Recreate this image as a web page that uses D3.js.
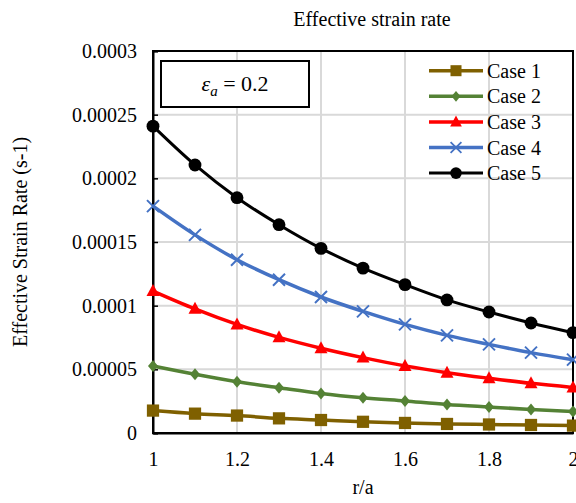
<!DOCTYPE html>
<html>
<head>
<meta charset="utf-8">
<script src="https://cdn.jsdelivr.net/npm/d3@7"></script>
<style>
  html, body { margin: 0; padding: 0; background: #fff; }
  svg text { font-family: "Liberation Serif", "Times New Roman", serif; fill: #000; }
</style>
</head>
<body>
<svg id="chart" width="576" height="503"></svg>
<script>
// r/a positions
const ratios = [1, 1.1, 1.2, 1.3, 1.4, 1.5, 1.6, 1.7, 1.8, 1.9, 2];

// Effective strain rate (s-1) for each case
const case1 = [0.0000176, 0.0000152, 0.0000137, 0.0000115, 0.0000102, 0.0000088, 0.0000079, 0.0000071, 0.0000067, 0.0000063, 0.0000058];
const case2 = [0.0000526, 0.0000461, 0.0000403, 0.0000356, 0.0000311, 0.0000277, 0.0000251, 0.0000224, 0.0000204, 0.0000185, 0.0000169];
const case3 = [0.0001115, 0.0000975, 0.0000853, 0.0000751, 0.0000666, 0.0000592, 0.0000527, 0.0000474, 0.0000430, 0.0000390, 0.0000358];
const case4 = [0.0001782, 0.0001556, 0.0001361, 0.0001204, 0.0001068, 0.0000955, 0.0000853, 0.0000767, 0.0000696, 0.0000631, 0.0000576];
const case5 = [0.0002410, 0.0002105, 0.0001848, 0.0001636, 0.0001450, 0.0001295, 0.0001165, 0.0001045, 0.0000950, 0.0000864, 0.0000788];

const seriesNames = ["Case 1", "Case 2", "Case 3", "Case 4", "Case 5"];
const seriesValues = [case1, case2, case3, case4, case5];
const seriesColors = ["#7f6000", "#548235", "#ff0000", "#4472c4", "#000000"];
const seriesMarkers = ["square", "diamond", "triangle", "x", "circle"];

const xTicks = [1, 1.2, 1.4, 1.6, 1.8, 2];
const xTickLabels = ["1", "1.2", "1.4", "1.6", "1.8", "2"];
const yTicks = [0, 0.00005, 0.0001, 0.00015, 0.0002, 0.00025, 0.0003];
const yTickLabels = ["0", "0.00005", "0.0001", "0.00015", "0.0002", "0.00025", "0.0003"];

const svg = d3.select("#chart");
const plotLeft = 153, plotRight = 573, plotTop = 51, plotBottom = 433;

const x = d3.scaleLinear().domain([1, 2]).range([plotLeft, plotRight]);
const y = d3.scaleLinear().domain([0, 0.0003]).range([plotBottom, plotTop]);

// gridlines
const grid = svg.append("g");
grid.selectAll("line.h").data(yTicks.slice(1, -1)).join("line")
  .attr("class", "h")
  .attr("x1", plotLeft).attr("x2", plotRight)
  .attr("y1", d => y(d)).attr("y2", d => y(d))
  .attr("stroke", "#d9d9d9").attr("stroke-width", 2);
grid.selectAll("line.v").data(xTicks.slice(1, -1)).join("line")
  .attr("class", "v")
  .attr("x1", d => x(d)).attr("x2", d => x(d))
  .attr("y1", plotTop).attr("y2", plotBottom)
  .attr("stroke", "#d9d9d9").attr("stroke-width", 2);

// plot frame
svg.append("rect")
  .attr("x", plotLeft).attr("y", plotTop)
  .attr("width", plotRight - plotLeft).attr("height", plotBottom - plotTop)
  .attr("fill", "none").attr("stroke", "#000").attr("stroke-width", 2);

// y axis: inside ticks, labels on the left
const yAxis = d3.axisLeft(y).tickValues(yTicks)
  .tickSize(-5).tickPadding(16)
  .tickFormat((d, i) => yTickLabels[i]);
const gy = svg.append("g").attr("transform", `translate(${plotLeft},0)`).call(yAxis);
gy.select(".domain").attr("stroke", "#000").attr("stroke-width", 2);
gy.selectAll(".tick line").attr("stroke", "#000").attr("stroke-width", 1.5);
gy.selectAll(".tick text")
  .style("font-family", "'Liberation Serif', serif").style("font-size", "20px")
  .attr("fill", "#000");

// x axis
const xAxis = d3.axisBottom(x).tickValues(xTicks)
  .tickSize(0).tickPadding(19)
  .tickFormat((d, i) => xTickLabels[i]);
const gx = svg.append("g").attr("transform", `translate(0,${plotBottom})`).call(xAxis);
gx.select(".domain").attr("stroke", "#000").attr("stroke-width", 2);
gx.selectAll(".tick text")
  .style("font-family", "'Liberation Serif', serif").style("font-size", "20px")
  .attr("fill", "#000");

// axis titles and chart title
svg.append("text").attr("x", 372).attr("y", 26)
  .attr("text-anchor", "middle").style("font-size", "20px")
  .text("Effective strain rate");
svg.append("text").attr("x", (plotLeft + plotRight) / 2).attr("y", 494)
  .attr("text-anchor", "middle").style("font-size", "20px")
  .text("r/a");
svg.append("text")
  .attr("transform", `translate(27,${(plotTop + plotBottom) / 2}) rotate(-90)`)
  .attr("text-anchor", "middle").style("font-size", "20px")
  .text("Effective Strain Rate (s-1)");

// marker shapes
function markerPath(kind) {
  switch (kind) {
    case "square": return d3.symbol(d3.symbolSquare, 150)();
    case "diamond": return "M0,-6L5,0L0,6L-5,0Z";
    case "triangle": return "M0,-7L6.5,5L-6.5,5Z";
    case "x": return "M-6,-6L6,6M-6,6L6,-6";
    case "circle": return d3.symbol(d3.symbolCircle, 130)();
  }
}
function drawMarker(g, kind, color) {
  const p = g.append("path").attr("d", markerPath(kind));
  if (kind === "x") p.attr("fill", "none").attr("stroke", color).attr("stroke-width", 2);
  else p.attr("fill", color).attr("stroke", "none");
}

const line = d3.line()
  .x((d, i) => x(ratios[i]))
  .y(d => y(d))
  .curve(d3.curveMonotoneX);

seriesValues.forEach((vals, s) => {
  const g = svg.append("g");
  g.append("path").datum(vals).attr("d", line)
    .attr("fill", "none").attr("stroke", seriesColors[s])
    .attr("stroke-width", s === 4 ? 3 : 3.5)
    .attr("stroke-linejoin", "round");
  vals.forEach((v, i) => {
    const m = g.append("g").attr("transform", `translate(${x(ratios[i])},${y(v)})`);
    drawMarker(m, seriesMarkers[s], seriesColors[s]);
  });
});

// legend
const legend = svg.append("g");
seriesNames.forEach((name, s) => {
  const ly = 70.7 + s * 25.6;
  const row = legend.append("g").attr("transform", `translate(0,${ly})`);
  row.append("line").attr("x1", 429).attr("x2", 483).attr("y1", 0).attr("y2", 0)
    .attr("stroke", seriesColors[s]).attr("stroke-width", s === 4 ? 3 : 3.5);
  const m = row.append("g").attr("transform", "translate(456,0) scale(0.9)");
  drawMarker(m, seriesMarkers[s], seriesColors[s]);
  row.append("text").attr("x", 487).attr("y", 7).style("font-size", "20px").text(name);
});

// annotation box
svg.append("rect").attr("x", 161).attr("y", 61).attr("width", 148).attr("height", 46)
  .attr("fill", "#fff").attr("stroke", "#000").attr("stroke-width", 2);
const ann = svg.append("text").attr("x", 235).attr("y", 91).attr("text-anchor", "middle")
  .style("font-size", "22px");
ann.append("tspan").style("font-style", "italic").text("ε");
ann.append("tspan").style("font-style", "italic").style("font-size", "15px").attr("dy", 5).text("a");
ann.append("tspan").attr("dy", -5).text(" = 0.2");
</script>
</body>
</html>
